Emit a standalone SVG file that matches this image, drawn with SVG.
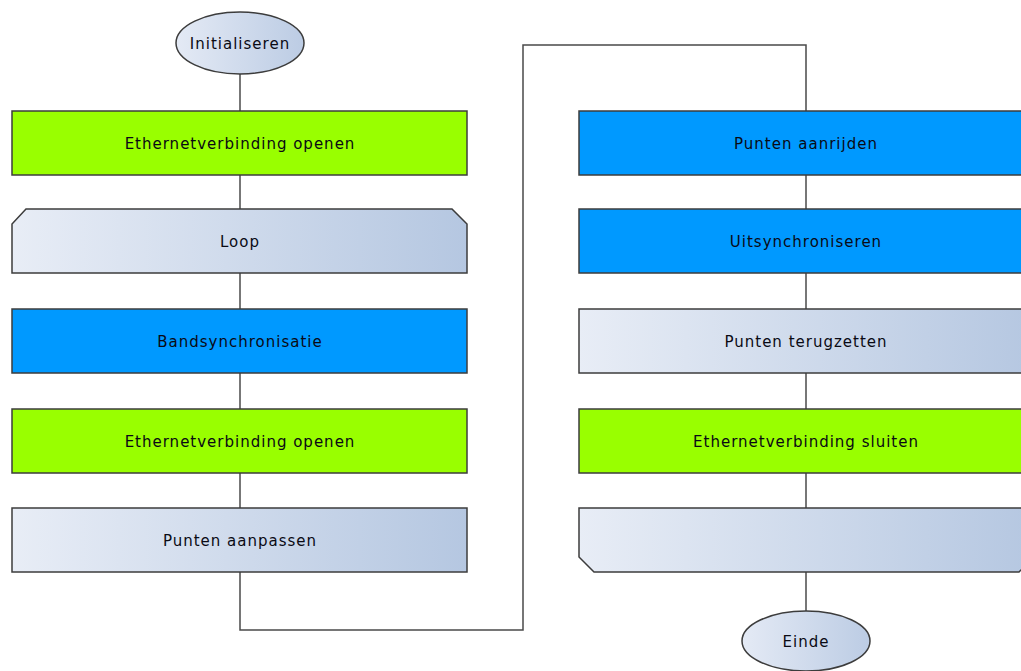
<svg xmlns="http://www.w3.org/2000/svg" width="1021" height="671" viewBox="0 0 1021 671">
  <defs>
    <linearGradient id="pale" x1="0" y1="0" x2="1" y2="0">
      <stop offset="0" stop-color="#e8edf6"/>
      <stop offset="1" stop-color="#b5c7e1"/>
    </linearGradient>
    <linearGradient id="paleOval" x1="0" y1="0" x2="1" y2="0">
      <stop offset="0" stop-color="#e4eaf5"/>
      <stop offset="1" stop-color="#bccce4"/>
    </linearGradient>
    <style>
      .edge { fill: none; stroke: #4a4a4a; stroke-width: 1.5; }
      .box { stroke: #3c3c3c; stroke-width: 1.5; }
      .green { fill: #99ff00; }
      .blue { fill: #0099ff; }
      .grad { fill: url(#pale); }
      .oval { fill: url(#paleOval); stroke: #3c3c3c; stroke-width: 1.5; }
      .label { font-family: "DejaVu Sans", sans-serif; font-size: 15px; letter-spacing: 1px; fill: #0a0a14; text-anchor: middle; }
    </style>
  </defs>

  <rect width="1021" height="671" fill="#ffffff"/>

  <!-- connectors -->
  <g id="connectors">
    <line class="edge" x1="240" y1="74" x2="240" y2="111"/>
    <line class="edge" x1="240" y1="175" x2="240" y2="209"/>
    <line class="edge" x1="240" y1="273" x2="240" y2="309"/>
    <line class="edge" x1="240" y1="373" x2="240" y2="409"/>
    <line class="edge" x1="240" y1="473" x2="240" y2="508"/>
    <polyline class="edge" points="240,572 240,630 523,630 523,45 806,45 806,111"/>
    <line class="edge" x1="806" y1="175" x2="806" y2="209"/>
    <line class="edge" x1="806" y1="273" x2="806" y2="309"/>
    <line class="edge" x1="806" y1="373" x2="806" y2="409"/>
    <line class="edge" x1="806" y1="473" x2="806" y2="508"/>
    <line class="edge" x1="806" y1="572" x2="806" y2="611"/>
  </g>

  <!-- left column -->
  <g id="start">
    <ellipse class="oval" cx="240" cy="43" rx="64" ry="31"/>
    <text class="label" x="240" y="49">Initialiseren</text>
  </g>
  <g id="eth-open-1">
    <rect class="box green" x="12" y="111" width="455" height="64"/>
    <text class="label" x="240" y="149">Ethernetverbinding openen</text>
  </g>
  <g id="loop">
    <path class="box grad" d="M26,209 H452 L467,224 V273 H12 V224 Z"/>
    <text class="label" x="240" y="247">Loop</text>
  </g>
  <g id="band-sync">
    <rect class="box blue" x="12" y="309" width="455" height="64"/>
    <text class="label" x="240" y="347">Bandsynchronisatie</text>
  </g>
  <g id="eth-open-2">
    <rect class="box green" x="12" y="409" width="455" height="64"/>
    <text class="label" x="240" y="447">Ethernetverbinding openen</text>
  </g>
  <g id="adjust-points">
    <rect class="box grad" x="12" y="508" width="455" height="64"/>
    <text class="label" x="240" y="546">Punten aanpassen</text>
  </g>

  <!-- right column -->
  <g id="drive-points">
    <rect class="box blue" x="579" y="111" width="455" height="64"/>
    <text class="label" x="806" y="149">Punten aanrijden</text>
  </g>
  <g id="desync">
    <rect class="box blue" x="579" y="209" width="455" height="64"/>
    <text class="label" x="806" y="247">Uitsynchroniseren</text>
  </g>
  <g id="reset-points">
    <rect class="box grad" x="579" y="309" width="455" height="64"/>
    <text class="label" x="806" y="347">Punten terugzetten</text>
  </g>
  <g id="eth-close">
    <rect class="box green" x="579" y="409" width="455" height="64"/>
    <text class="label" x="806" y="447">Ethernetverbinding sluiten</text>
  </g>
  <g id="loop-end">
    <path class="box grad" d="M579,508 H1034 V557 L1019,572 H594 L579,557 Z"/>
  </g>
  <g id="end">
    <ellipse class="oval" cx="806" cy="641" rx="64" ry="30"/>
    <text class="label" x="806" y="647">Einde</text>
  </g>
</svg>
